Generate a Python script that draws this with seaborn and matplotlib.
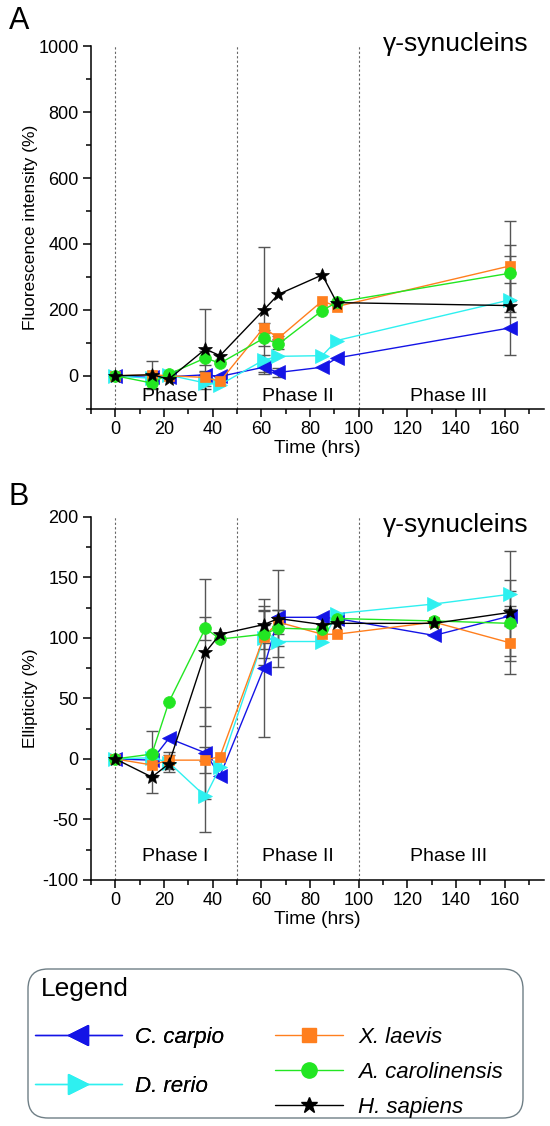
import numpy as np
import pandas as pd
import matplotlib
matplotlib.use("Agg")
import matplotlib.pyplot as plt
from matplotlib.lines import Line2D
from matplotlib.patches import FancyBboxPatch
from matplotlib.ticker import MultipleLocator
import seaborn as sns

nan = np.nan

times = [0, 15, 22, 37, 43, 61, 67, 85, 91, 131, 162]
species = ["C. carpio", "D. rerio", "X. laevis", "A. carolinensis", "H. sapiens"]
colors = ["#1414e6", "#2ef0f0", "#ff7f1e", "#22e622", "#000000"]
markers = ["<", ">", "s", "o", "*"]
msizes = [9.5, 9.5, 7.5, 8.5, 10.5]

# panel A: fluorescence intensity (%)
carpio_A = [0, -5, -3, 3, -2, 26, 10, 26, 54, nan, 145]
rerio_A = [0, -8, 2, -22, -27, 48, 59, 61, 107, nan, 230]
laevis_A = [0, 3, 0, -5, -17, 146, 114, 227, 210, nan, 333]
carol_A = [0, -22, 5, 54, 38, 114, 96, 198, 223, nan, 311]
sapiens_A = [0, 3, -10, 81, 61, 200, 247, 306, 222, nan, 213]

carpio_Ae = [0, 5, 0, 10, 0, 20, 13, 0, 0, nan, 0]
rerio_Ae = [0, 8, 0, 8, 0, 15, 0, 0, 0, nan, 52]
laevis_Ae = [0, 8, 0, 15, 0, 15, 6, 0, 0, nan, 138]
carol_Ae = [0, 15, 0, 20, 0, 25, 15, 0, 0, nan, 85]
sapiens_Ae = [0, 42, 0, 122, 0, 190, 0, 0, 0, nan, 150]

# panel B: ellipticity (%)
carpio_B = [0, -1, 17, 5, -14, 75, 117, 117, 116, 102, 118]
rerio_B = [0, 1, -3, -31, -7, 100, 97, 97, 120, 128, 136]
laevis_B = [0, -5, -1, -1, 2, 101, 113, 103, 103, 113, 96]
carol_B = [0, 4, 47, 108, 99, 103, 108, 107, 116, 114, 112]
sapiens_B = [0, -15, -4, 88, 103, 111, 116, 111, 112, 112, 121]

carpio_Be = [0, 3, 0, 38, 0, 57, 0, 0, 0, 0, 8]
rerio_Be = [0, 3, 0, 29, 0, 22, 13, 0, 0, 0, 12]
laevis_Be = [0, 8, 7, 11, 0, 10, 10, 0, 0, 0, 15]
carol_Be = [0, 19, 0, 9.5, 0, 20, 15, 0, 0, 0, 27]
sapiens_Be = [0, 13, 7, 61, 0, 15, 40, 0, 0, 0, 51]

phase_labels = ["Phase I", "Phase II", "Phase III"]
phase_x = [24.5, 75, 137]
phase_lines = [0, 50, 100]


def make_df(vals, errs):
    rows = []
    for sp, v, e in zip(species, vals, errs):
        for t, y, ye in zip(times, v, e):
            rows.append((sp, t, y, ye))
    df = pd.DataFrame(rows, columns=["species", "time", "value", "err"])
    return df.dropna(subset=["value"])


dfA = make_df([carpio_A, rerio_A, laevis_A, carol_A, sapiens_A],
              [carpio_Ae, rerio_Ae, laevis_Ae, carol_Ae, sapiens_Ae])
dfB = make_df([carpio_B, rerio_B, laevis_B, carol_B, sapiens_B],
              [carpio_Be, rerio_Be, laevis_Be, carol_Be, sapiens_Be])

sns.set_style("ticks")
plt.rcParams['font.family'] = ['Liberation Sans', 'DejaVu Sans']
plt.rcParams['axes.unicode_minus'] = False
plt.rcParams['text.color'] = 'black'
plt.rcParams['axes.labelcolor'] = 'black'
plt.rcParams['xtick.color'] = 'black'
plt.rcParams['ytick.color'] = 'black'

fig = plt.figure(figsize=(5.5, 11.26), dpi=100)
axA = fig.add_axes([0.1655, 0.637, 0.823, 0.322])
axB = fig.add_axes([0.1655, 0.2185, 0.823, 0.3225])

pal = dict(zip(species, colors))
mk = dict(zip(species, markers))


def draw_panel(ax, df, ylim, major, minor, ylabel, phase_y, title_y):
    for xv in phase_lines:
        ax.axvline(xv, color="#666666", lw=0.8, ls=(0, (2, 2)), zorder=0)
    # error bars only where an error is given
    for sp in species:
        d = df[(df.species == sp) & (df.err > 0)]
        ax.errorbar(d.time, d.value, yerr=d.err, fmt="none", ecolor="#555555",
                    elinewidth=1, capsize=4.5, capthick=1, zorder=1)
    sns.lineplot(data=df, x="time", y="value", hue="species", style="species",
                 hue_order=species, style_order=species, palette=pal,
                 markers=mk, dashes=False, linewidth=1, errorbar=None,
                 legend=False, ax=ax, zorder=2)
    for line, sp, ms in zip(ax.get_lines()[-len(species):], species, msizes):
        line.set_markersize(ms)
        line.set_markeredgecolor(pal[sp])
        line.set_markeredgewidth(0.5)
    ax.set_xlim(-10, 176)
    ax.set_ylim(*ylim)
    ax.xaxis.set_major_locator(MultipleLocator(20))
    ax.xaxis.set_minor_locator(MultipleLocator(10))
    ax.yaxis.set_major_locator(MultipleLocator(major))
    ax.yaxis.set_minor_locator(MultipleLocator(minor))
    ax.tick_params(which="major", length=6, width=1.1, labelsize=13,
                   color="black", labelcolor="black", pad=3)
    ax.tick_params(which="minor", length=3.5, width=1.1, color="black")
    sns.despine(ax=ax)
    for s in ["left", "bottom"]:
        ax.spines[s].set_linewidth(1.1)
        ax.spines[s].set_color("black")
    ax.set_xlabel("Time (hrs)", fontsize=13.8, labelpad=1)
    ax.set_ylabel(ylabel, fontsize=12.5)
    ax.yaxis.set_label_coords(-0.118, 0.5)
    for lab, xv in zip(phase_labels, phase_x):
        ax.text(xv, phase_y, lab, ha="center", va="center", fontsize=14)
    ax.text(140, title_y, "γ-synucleins", ha="center", va="center", fontsize=19)


draw_panel(axA, dfA, (-100, 1000), 200, 100, "Fluorescence intensity (%)", -62, 1008)
draw_panel(axB, dfB, (-100, 200), 50, 25, "Ellipticity (%)", -81, 193)

fig.text(0.034, 0.981, "A", fontsize=22, ha="center", va="center")
fig.text(0.034, 0.559, "B", fontsize=22, ha="center", va="center")

# legend: rounded frame, title and two columns
frame = FancyBboxPatch((0.28, 0.08), 4.95, 1.49,
                       boxstyle="round,pad=0,rounding_size=0.2",
                       transform=fig.dpi_scale_trans, facecolor="white",
                       edgecolor="#6f7f86", linewidth=1.0)
fig.add_artist(frame)
fig.text(41 / 550, 1 - 989 / 1126, "Legend", fontsize=19, ha="left", va="center")

leg_sizes = [15, 15, 10, 11, 12]
handles = [Line2D([], [], color=c, marker=m, markersize=s, lw=1, markeredgecolor=c)
           for c, m, s in zip(colors, markers, leg_sizes)]

leg1 = fig.legend(handles=handles[:2], labels=species[:2], loc="upper left",
                  bbox_to_anchor=(35 / 550, 1 - 1027 / 1126), frameon=False,
                  prop={"style": "italic", "size": 16}, borderpad=0,
                  borderaxespad=0, handlelength=3.9, handletextpad=0.62,
                  labelspacing=1.25)
leg2 = fig.legend(handles=handles[2:], labels=species[2:], loc="upper left",
                  bbox_to_anchor=(275 / 550, 1 - 1027 / 1126), frameon=False,
                  prop={"style": "italic", "size": 16}, borderpad=0,
                  borderaxespad=0, handlelength=3.05, handletextpad=0.7,
                  labelspacing=0.63)
fig.add_artist(leg1)

fig.savefig("out.png", dpi=100)
